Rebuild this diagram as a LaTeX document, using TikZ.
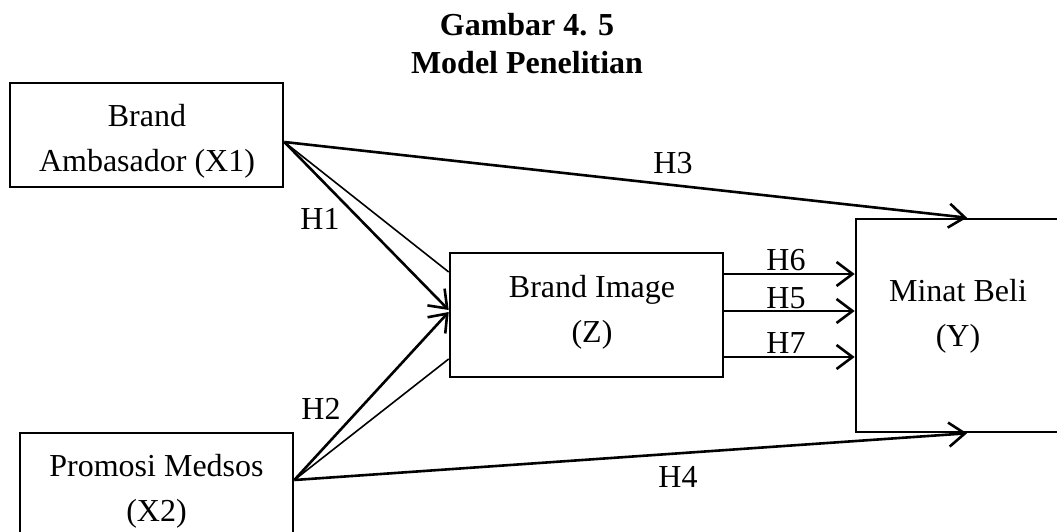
\documentclass[tikz,border=0pt]{standalone}
\usepackage{fontspec}
\setmainfont{Liberation Serif}
\usetikzlibrary{arrows.meta}

\begin{document}
\begin{tikzpicture}[x=1pt,y=-1pt,
    box/.style={draw,line width=2.6pt,inner sep=0pt},
    teks/.style={align=center,inner sep=0pt,font=\fontsize{32}{45}\selectfont},
    hyp/.style={font=\fontsize{32}{37}\selectfont,inner sep=1pt},
    judul/.style={anchor=base,font=\bfseries\fontsize{32}{37}\selectfont},
    arr/.style={line width=2.6pt,-{Straight Barb[length=16pt,width=24pt]}},
    lightline/.style={line width=1.6pt}]
    \useasboundingbox (0,0) rectangle (1057,532);
    \clip (0,0) rectangle (1057,532);
    % judul
    \node[judul] at (527,36) (T1) {Gambar 4. 5};
    \node[judul] at (527,74) (T2) {Model Penelitian};
    % variabel
    \node[box,minimum width=273,minimum height=104] at (146.5,135) (X1) {};
    \node[box,minimum width=273,minimum height=114] at (156.5,490) (X2) {};
    \node[box,minimum width=273,minimum height=124] at (586.5,315) (BI) {};
    \node[box,minimum width=204,minimum height=213] at (958,325.5) (Y) {};
    \node[teks] at (147,141) (X1t) {Brand\\Ambasador (X1)};
    \node[teks] at (156.5,491) (X2t) {Promosi Medsos\\(X2)};
    \node[teks] at (592,312) (BIt) {Brand Image\\(Z)};
    \node[teks] at (958,316) (Yt) {Minat Beli\\(Y)};
    % hipotesis
    \node[hyp] at (320,219) (H1) {H1};
    \node[hyp] at (321,409) (H2) {H2};
    \node[hyp] at (673,163) (H3) {H3};
    \node[hyp] at (678,477) (H4) {H4};
    \node[hyp] at (786,298) (H5) {H5};
    \node[hyp] at (786,260) (H6) {H6};
    \node[hyp] at (786,343) (H7) {H7};
    % panah
    \draw[arr] ([yshift=-7pt]X1.east) -- ([xshift=9pt]Y.north);
    \draw[arr] ([yshift=-7pt]X1.east) -- ([yshift=5pt]BI.west);
    \draw[lightline] ([yshift=-7pt]X1.east) -- ([yshift=43pt]BI.west);
    \draw[arr] ([yshift=10pt]X2.east) -- ([yshift=3pt]BI.west);
    \draw[lightline] ([yshift=10pt]X2.east) -- ([yshift=-44pt]BI.west);
    \draw[arr] ([yshift=10pt]X2.east) -- ([xshift=9pt]Y.south);
    \draw[arr] ([yshift=41pt]BI.east) -- ([yshift=51.5pt]Y.west);
    \draw[arr] ([yshift=4pt]BI.east) -- ([yshift=14.5pt]Y.west);
    \draw[arr] ([yshift=-42pt]BI.east) -- ([yshift=-31.5pt]Y.west);
\end{tikzpicture}
\end{document}
